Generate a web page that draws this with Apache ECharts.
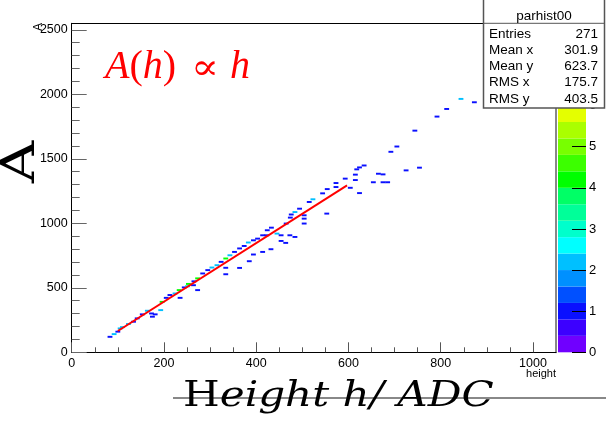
<!DOCTYPE html>
<html><head><meta charset="utf-8">
<script src="https://cdn.jsdelivr.net/npm/echarts@6/dist/echarts.min.js"></script>
<style>html,body{margin:0;padding:0;background:#fff}#c{width:606px;height:428px}</style>
</head><body><div id="c"></div>
<script>
// ---- data ----
const binH = [83,92,100,105,110,123,134,142,153,164,173,175,181,193,196,205,213,224,235,233,244,251,253,264,265,273,273,284,295,304,315,324,334,334,334,343,353,364,364,374,383,385,394,394,403,414,414,423,424,433,432,445,454,454,464,465,473,484,474,476,484,494,504,504,504,515,553,523,544,554,573,573,593,604,615,615,618,624,634,624,654,665,675,675,685,725,754,692,705,744,792,813,844,873];
const binA = [120,141,160,185,195,219,237,263,294,322,301,276,294,327,391,422,444,456,422,482,503,512,530,520,550,482,573,611,637,657,675,701,727,655,605,752,778,654,805,824,851,706,758,868,881,907,778,907,946,966,799,920,907,863,848,998,907,894,1044,1068,1087,1113,1062,1036,998,1165,1075,1186,1232,1265,1312,1281,1346,1275,1335,1377,1418,1433,1448,1234,1318,1384,1379,1318,1318,1410,1431,1554,1595,1718,1827,1886,1964,1938];
const binN = [1,2,1,2,2,2,1,1,1,2,1,1,1,2,4,1,1,2,1,4,1,2,4,1,1,1,4,1,1,2,2,1,4,1,1,2,1,1,1,1,2,1,1,1,1,1,1,1,1,1,1,2,1,1,1,1,1,1,1,1,2,1,1,1,1,1,1,2,1,1,1,1,1,1,1,1,1,1,1,1,1,1,1,1,1,1,1,1,1,1,1,1,2,1];
const fitH = [100, 597];
const fitA = [165, 1294];
const xMajorTicks = [0,200,400,600,800,1000];
const xMinorTicks = [50,100,150,250,300,350,450,500,550,650,700,750,850,900,950];
const yMajorTicks = [0,500,1000,1500,2000,2500];
const yMinorTicks = [100,200,300,400,600,700,800,900,1100,1200,1300,1400,1600,1700,1800,1900,2100,2200,2300,2400];
const zTicks = [0,1,2,3,4,5,6,7,8];
const zEdges = [0,0.4,0.8,1.2,1.6,2.0,2.4,2.8,3.2,3.6,4.0,4.4,4.8,5.2,5.6,6.0,6.4,6.8,7.2,7.6,8.0];
const palette = ['#7000ff','#3c00ff','#0a10ff','#0050ff','#0090ff','#00c0ff','#00ffff','#00ffcc','#00ff99','#00ff66','#00ff00','#3cff00','#78ff00','#aaff00','#e4ff00','#ffff00','#ffcc00','#ff9900','#ff5500','#ff0000'];
const statsTitle = 'parhist00';
const statsLabels = ['Entries','Mean x','Mean y','RMS x','RMS y'];
const statsValues = ['271','301.9','623.7','175.7','403.5'];
const xMin = 0, xMax = 1050, yMin = 0, yMax = 2550, zMin = 0, zMax = 8;
const BX = 10.5, BY = 15;

function colorFor(n){
  let i = Math.floor((n - zMin) / (zEdges[1]-zEdges[0]) + 1e-9);
  return palette[Math.max(0, Math.min(palette.length-1, i))];
}
const plain = v => String(v);

const chart = echarts.init(document.getElementById('c'), null, {renderer:'canvas'});
const sans = '"Liberation Sans", Arial, sans-serif';
const serif = '"DejaVu Serif", "Liberation Serif", serif';
const tserif = '"Liberation Serif", "DejaVu Serif", serif';

const statsRows = statsLabels.map((l,i)=>[
  {type:'text', z:101, style:{x:489, y:34+i*16.25, text:l, font:'13.5px '+sans, fill:'#000', verticalAlign:'middle', align:'left'}},
  {type:'text', z:101, style:{x:598, y:34+i*16.25, text:statsValues[i], font:'13.5px '+sans, fill:'#000', verticalAlign:'middle', align:'right'}}
]).flat();

chart.setOption({
  animation:false,
  grid:[
    {left:71.7, top:23.3, width:484.3, height:329},
    {left:558, top:23.3, width:28, height:329}
  ],
  xAxis:[
    {gridIndex:0, type:'value', min:xMin, max:xMax, position:'bottom', z:10,
     axisLine:{show:true, onZero:false, lineStyle:{color:'#000', width:1}},
     axisTick:{show:true, inside:true, length:10, customValues:xMajorTicks, lineStyle:{color:'#555'}},
     axisLabel:{show:true, customValues:xMajorTicks, formatter:plain, margin:5, fontSize:12.5, fontFamily:sans, color:'#000'},
     splitLine:{show:false}},
    {gridIndex:0, type:'value', min:xMin, max:xMax, position:'bottom', z:10,
     axisLine:{show:false, onZero:false},
     axisTick:{show:true, inside:true, length:5, customValues:xMinorTicks, lineStyle:{color:'#555'}},
     axisLabel:{show:false}, splitLine:{show:false}},
    {gridIndex:0, type:'value', min:xMin, max:xMax, position:'top', z:10,
     axisLine:{show:true, onZero:false, lineStyle:{color:'#000', width:1}},
     axisTick:{show:false}, axisLabel:{show:false}, splitLine:{show:false}},
    {gridIndex:1, type:'value', min:0, max:1, show:false}
  ],
  yAxis:[
    {gridIndex:0, type:'value', min:yMin, max:yMax, position:'left', z:10,
     axisLine:{show:true, onZero:false, lineStyle:{color:'#000', width:1}},
     axisTick:{show:true, inside:true, length:15, customValues:yMajorTicks, lineStyle:{color:'#666'}},
     axisLabel:{show:true, customValues:yMajorTicks, formatter:plain, margin:4, fontSize:12.5, fontFamily:sans, color:'#000'},
     splitLine:{show:false}},
    {gridIndex:0, type:'value', min:yMin, max:yMax, position:'left', z:10,
     axisLine:{show:false, onZero:false},
     axisTick:{show:true, inside:true, length:8, customValues:yMinorTicks, lineStyle:{color:'#666'}},
     axisLabel:{show:false}, splitLine:{show:false}},
    {gridIndex:0, type:'value', min:yMin, max:yMax, position:'right', z:10,
     axisLine:{show:true, onZero:false, lineStyle:{color:'#888', width:2}},
     axisTick:{show:false}, axisLabel:{show:false}, splitLine:{show:false}},
    {gridIndex:1, type:'value', min:zMin, max:zMax, position:'right', z:10,
     axisLine:{show:false, onZero:false},
     axisTick:{show:true, inside:true, length:14, customValues:zTicks, lineStyle:{color:'#000'}},
     axisLabel:{show:true, customValues:zTicks, formatter:plain, margin:3, fontSize:13, fontFamily:sans, color:'#000'},
     splitLine:{show:false}}
  ],
  series:[
    {type:'custom', xAxisIndex:0, yAxisIndex:0, z:2,
     data: binH.map((h,i)=>[h, binA[i], binN[i]]),
     renderItem:function(params, api){
       const h=api.value(0), a=api.value(1), n=api.value(2);
       const p0=api.coord([h-BX/2, a+BY/2]);
       const p1=api.coord([h+BX/2, a-BY/2]);
       return {type:'rect', shape:{x:p0[0], y:p0[1], width:p1[0]-p0[0], height:p1[1]-p0[1]}, style:{fill:colorFor(n)}};
     }},
    {type:'line', xAxisIndex:0, yAxisIndex:0, z:5, symbol:'none',
     data: fitH.map((h,i)=>[h, fitA[i]]),
     lineStyle:{color:'#ff0000', width:2}},
    {type:'custom', xAxisIndex:3, yAxisIndex:3, z:1,
     data: palette.map((c,i)=>[zEdges[i], zEdges[i+1], i]),
     renderItem:function(params, api){
       const lo=api.value(0), hi=api.value(1), i=api.value(2);
       const p0=api.coord([0, hi]);
       const p1=api.coord([1, lo]);
       return {type:'rect', shape:{x:p0[0], y:p0[1], width:p1[0]-p0[0], height:p1[1]-p0[1]}, style:{fill:palette[i]}};
     }}
  ],
  graphic:[
    {type:'text', z:50, rotation:Math.PI/2, x:22, y:162, scaleX:1.25,
     style:{text:'A', font:'47px '+serif, fill:'#000', align:'center', verticalAlign:'middle'}},
    {type:'text', z:50, rotation:Math.PI/2, x:39, y:27,
     style:{text:'A', font:'12px '+sans, fill:'#000', align:'center', verticalAlign:'middle'}},
    {type:'text', z:50, x:105, y:67,
     style:{text:'{i|A}{r|(}{i|h}{r|)}', verticalAlign:'middle', align:'left',
       rich:{i:{font:'italic 40px '+tserif, fill:'#ff0000'}, r:{font:'40px '+tserif, fill:'#ff0000'}}}},
    {type:'text', z:50, x:205, y:70, scaleX:1.15,
     style:{text:'∝', font:'36px '+serif, fill:'#ff0000', verticalAlign:'middle', align:'center'}},
    {type:'text', z:50, x:230, y:67,
     style:{text:'h', font:'italic 40px '+tserif, fill:'#ff0000', verticalAlign:'middle', align:'left'}},
    {type:'text', z:50, x:556, y:374,
     style:{text:'height', font:'11px '+sans, fill:'#000', align:'right', verticalAlign:'middle'}},
    {type:'line', z:40, shape:{x1:173, y1:398, x2:606, y2:398}, style:{stroke:'#888', lineWidth:2}},
    {type:'text', z:50, x:183, y:397, scaleX:1.17,
     style:{x:0, y:0, text:'{r|H}{i|eight h/ ADC}', verticalAlign:'middle', align:'left',
       rich:{i:{font:'italic 36px '+serif, fill:'#000'}, r:{font:'36px '+serif, fill:'#000'}}}},
    {type:'rect', z:100, shape:{x:483.5, y:-1, width:121, height:109}, style:{fill:'#fff', stroke:'#555', lineWidth:1.5}},
    {type:'line', z:101, shape:{x1:483.5, y1:23.3, x2:604.5, y2:23.3}, style:{stroke:'#555', lineWidth:1}},
    {type:'text', z:101, style:{x:544, y:16.5, text:statsTitle, font:'13.5px '+sans, fill:'#000', align:'center', verticalAlign:'middle'}}
  ].concat(statsRows)
});
</script></body></html>
